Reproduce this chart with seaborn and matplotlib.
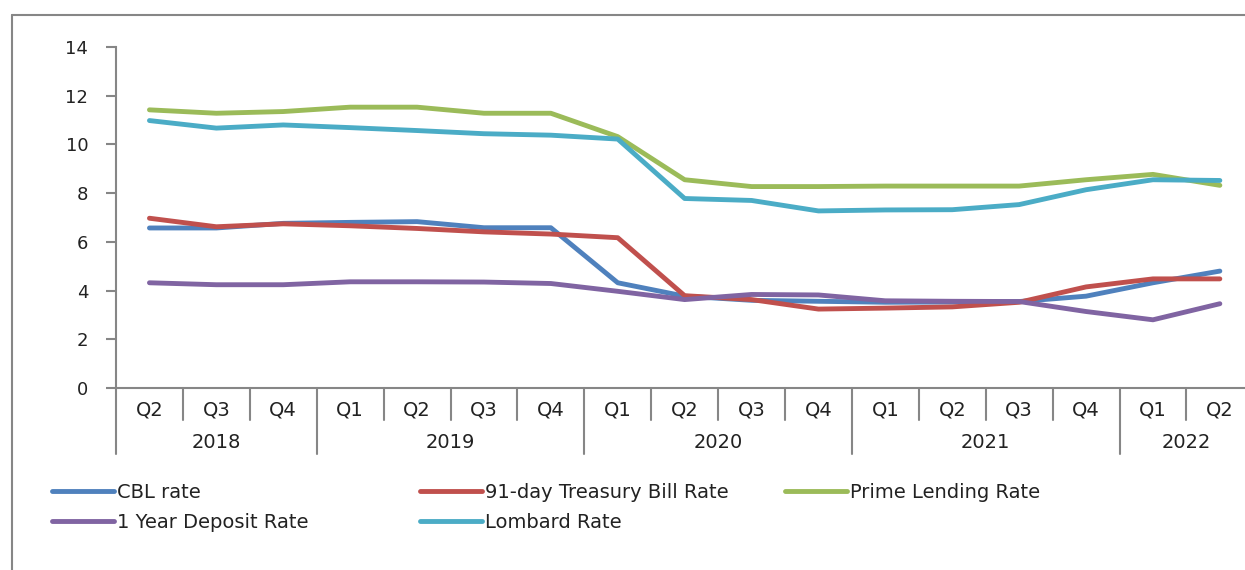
import pandas as pd
import matplotlib.pyplot as plt
import seaborn as sns
from matplotlib.lines import Line2D

# Datos (trimestres 2018 Q2 - 2022 Q2)
quarters = ['Q2', 'Q3', 'Q4', 'Q1', 'Q2', 'Q3', 'Q4', 'Q1', 'Q2', 'Q3', 'Q4',
            'Q1', 'Q2', 'Q3', 'Q4', 'Q1', 'Q2']
years = ['2018', '2019', '2020', '2021', '2022']
quarters_per_year = [3, 4, 4, 4, 2]

cbl_rate = [6.57, 6.57, 6.76, 6.80, 6.83, 6.58, 6.58, 4.32, 3.77, 3.60, 3.56,
            3.52, 3.53, 3.55, 3.77, 4.32, 4.80]
tbill_rate = [6.97, 6.62, 6.74, 6.66, 6.55, 6.41, 6.32, 6.17, 3.79, 3.63, 3.24,
              3.28, 3.33, 3.52, 4.15, 4.48, 4.48]
prime_rate = [11.42, 11.28, 11.35, 11.53, 11.53, 11.28, 11.28, 10.32, 8.55, 8.27, 8.27,
              8.29, 8.29, 8.29, 8.55, 8.77, 8.32]
deposit_rate = [4.32, 4.24, 4.24, 4.36, 4.36, 4.35, 4.29, 3.97, 3.63, 3.84, 3.82,
                3.58, 3.56, 3.55, 3.14, 2.80, 3.46]
lombard_rate = [10.98, 10.67, 10.80, 10.69, 10.57, 10.44, 10.38, 10.22, 7.78, 7.70, 7.27,
                7.31, 7.32, 7.53, 8.14, 8.55, 8.52]

names = ['CBL rate', '91-day Treasury Bill Rate', 'Prime Lending Rate',
         '1 Year Deposit Rate', 'Lombard Rate']
series = [cbl_rate, tbill_rate, prime_rate, deposit_rate, lombard_rate]
colores = ['#4F81BD', '#C0504D', '#9BBB59', '#8064A2', '#4BACC6']

rows = []
for nombre, valores in zip(names, series):
    for i, v in enumerate(valores):
        rows.append({'idx': i, 'rate': v, 'series': nombre})
df = pd.DataFrame(rows)

sns.set_style('white')
plt.rcParams['font.family'] = ['DejaVu Sans']

W, H = 1245, 570
fig = plt.figure(figsize=(W / 100, H / 100), dpi=100)
gris = '#868686'

# marco exterior (recortado a la derecha y abajo)
fig.add_artist(Line2D([12 / W, 12 / W], [0, 1 - 15 / H], color=gris, lw=1.5))
fig.add_artist(Line2D([12 / W, 1], [1 - 15 / H, 1 - 15 / H], color=gris, lw=1.5))

ax = fig.add_axes([116 / W, 1 - 388 / H, 17 * 66.9 / W, 341 / H])
sns.lineplot(data=df, x='idx', y='rate', hue='series', hue_order=names,
             palette=colores, lw=3.5, legend=False, sort=False, ax=ax)

ax.set_xlim(-0.5, 16.5)
ax.set_ylim(0, 14)
ax.set_yticks(range(0, 15, 2))
ax.set_xticks(range(len(quarters)))
ax.set_xticklabels(quarters, fontsize=14, color='#222222')
ax.tick_params(axis='x', length=0, pad=9)
ax.tick_params(axis='y', length=7, width=1.5, color=gris, pad=13,
               labelsize=13, labelcolor='#222222', left=True)
ax.set_xlabel('')
ax.set_ylabel('')
for s in ['top', 'right']:
    ax.spines[s].set_visible(False)
for s in ['left', 'bottom']:
    ax.spines[s].set_color(gris)
    ax.spines[s].set_linewidth(1.5)

# separadores de trimestres y años
trans = ax.get_xaxis_transform()
frontera = -0.5
bordes = [-0.5]
for n in quarters_per_year:
    frontera += n
    bordes.append(frontera)
for i in range(len(quarters)):
    b = i - 0.5
    bajo = -0.194 if b in bordes else -0.094
    ax.plot([b, b], [0, bajo], color=gris, lw=1.5, transform=trans, clip_on=False)

inicio = 0
for anio, n in zip(years, quarters_per_year):
    centro = inicio + (n - 1) / 2
    ax.text(centro, -0.161, anio, transform=trans, ha='center', va='center',
            fontsize=14, color='#222222')
    inicio += n

# leyenda en tres columnas
lineas = ax.get_lines()[:5]
columnas = [([0, 3], 52), ([1, 4], 420), ([2], 785)]
for idxs, xpos in columnas:
    leg = fig.legend([lineas[i] for i in idxs], [names[i] for i in idxs],
                     loc='upper left', bbox_to_anchor=(xpos / W, 1 - 483 / H),
                     frameon=False, fontsize=14, borderpad=0, borderaxespad=0,
                     handlelength=3.2, handletextpad=0.15, labelspacing=0.55)
    for t in leg.get_texts():
        t.set_color('#222222')

fig.savefig('out.png', dpi=100)
